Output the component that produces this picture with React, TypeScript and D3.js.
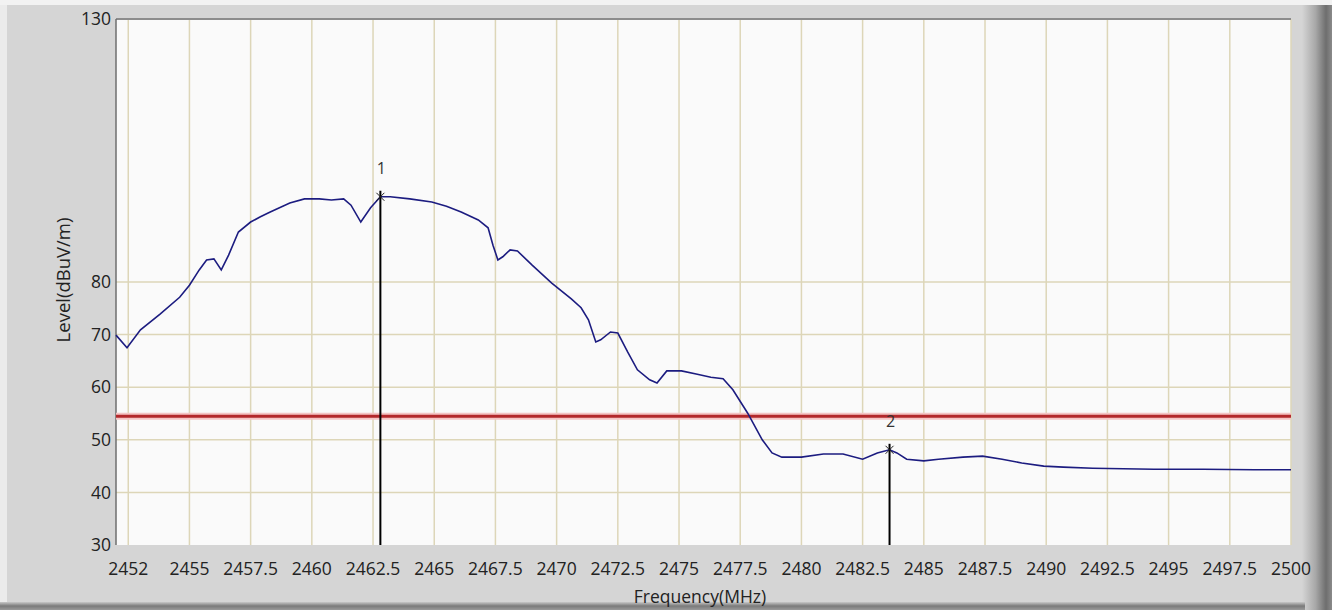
import React from "react";
import * as d3 from "d3";

const freqMHz = [
  2452.0, 2452.45, 2453.0, 2453.8, 2454.6, 2455.0, 2455.4, 2455.7, 2456.0, 2456.3,
  2456.6, 2457.0, 2457.5, 2457.9, 2458.3, 2459.1, 2459.7, 2460.3, 2460.8, 2461.3,
  2461.6, 2462.0, 2462.4, 2462.8, 2463.2, 2464.0, 2464.9, 2465.5, 2466.1, 2466.8,
  2467.2, 2467.4, 2467.6, 2467.8, 2468.1, 2468.4, 2469.0, 2469.8, 2470.6, 2471.0,
  2471.3, 2471.6, 2471.8, 2472.2, 2472.5, 2472.9, 2473.3, 2473.8, 2474.1, 2474.5,
  2475.1, 2475.7, 2476.3, 2476.8, 2477.2, 2477.8, 2478.4, 2478.8, 2479.2, 2480.0,
  2480.9, 2481.7, 2482.5, 2483.1, 2483.6, 2483.9, 2484.3, 2485.0, 2485.6, 2486.6,
  2487.4, 2488.2, 2489.0, 2489.9, 2490.7, 2491.9, 2494.4, 2496.4, 2498.5, 2500.0,
];
const levelDb = [
  69.9, 67.5, 70.9, 73.9, 77.1, 79.4, 82.3, 84.2, 84.4, 82.3,
  85.1, 89.5, 91.4, 92.4, 93.3, 95.0, 95.8, 95.8, 95.6, 95.8,
  94.6, 91.4, 94.1, 96.2, 96.2, 95.8, 95.2, 94.4, 93.3, 91.8,
  90.3, 87.0, 84.2, 84.8, 86.1, 85.9, 83.2, 79.8, 76.8, 75.1,
  72.8, 68.6, 69.0, 70.5, 70.3, 66.7, 63.3, 61.4, 60.8, 63.1,
  63.1, 62.5, 61.9, 61.6, 59.5, 55.1, 50.0, 47.5, 46.7, 46.7,
  47.3, 47.3, 46.3, 47.5, 48.1, 47.5, 46.3, 46.0, 46.3, 46.7,
  46.9, 46.3, 45.6, 45.0, 44.8, 44.6, 44.4, 44.4, 44.3, 44.3,
];

const xTickValues = [
  2452.5, 2455, 2457.5, 2460, 2462.5, 2465, 2467.5, 2470, 2472.5, 2475,
  2477.5, 2480, 2482.5, 2485, 2487.5, 2490, 2492.5, 2495, 2497.5, 2500,
];
const xTickLabels = [
  "2452", "2455", "2457.5", "2460", "2462.5", "2465", "2467.5", "2470", "2472.5", "2475",
  "2477.5", "2480", "2482.5", "2485", "2487.5", "2490", "2492.5", "2495", "2497.5", "2500",
];
const yTickValues = [30, 40, 50, 60, 70, 80, 130];
const yGridValues = [40, 50, 60, 70, 80];
const limitLevel = 54.5;
const markerFreqs = [2462.8, 2483.6];
const markerLevels = [96.2, 48.1];
const markerLabels = ["1", "2"];

const W = 1332;
const H = 610;
const left = 116;
const right = 1291;
const top = 19;
const bottom = 545;
const font = "'Open Sans', 'Noto Sans', sans-serif";

export default function App() {
  const x = d3.scaleLinear().domain([2452, 2500]).range([left, right]);
  const y = d3.scaleLinear().domain([30, 130]).range([bottom, top]);
  const pts: [number, number][] = freqMHz.map((f, i) => [f, levelDb[i]]);
  const line = d3
    .line<[number, number]>()
    .x((d) => x(d[0]))
    .y((d) => y(d[1]))
    .curve(d3.curveLinear);

  return (
    <svg
      width={W}
      height={H}
      style={{ position: "absolute", left: 0, top: 0, display: "block" }}
    >
      <defs>
        <linearGradient id="rightShade" x1="0" x2="1" y1="0" y2="0">
          <stop offset="0" stopColor="#d5d5d5" />
          <stop offset="0.45" stopColor="#a8a8a8" />
          <stop offset="0.8" stopColor="#6e6e6e" />
          <stop offset="1" stopColor="#8a8a8a" />
        </linearGradient>
        <linearGradient id="bottomShade" x1="0" x2="0" y1="0" y2="1">
          <stop offset="0" stopColor="#c8c8c8" />
          <stop offset="0.5" stopColor="#7a7a7a" />
          <stop offset="1" stopColor="#9a9a9a" />
        </linearGradient>
      </defs>
      {/* panel */}
      <rect x={0} y={0} width={W} height={H} fill="#d5d5d5" />
      <rect x={0} y={0} width={W} height={5} fill="#f2f2f2" />
      <rect x={0} y={5} width={7} height={H - 5} fill="#ebebeb" />
      <rect x={1302} y={5} width={30} height={H - 5} fill="url(#rightShade)" />
      <rect x={0} y={602} width={1305} height={8} fill="url(#bottomShade)" />

      {/* plot background */}
      <rect x={left} y={top} width={right - left} height={bottom - top} fill="#fafafa" />

      {/* grid */}
      {xTickValues.map((v) => (
        <line
          key={"gx" + v}
          x1={x(v)}
          x2={x(v)}
          y1={top}
          y2={bottom}
          stroke="#ddd6b8"
          strokeWidth={1.5}
        />
      ))}
      {yGridValues.map((v) => (
        <line
          key={"gy" + v}
          x1={left}
          x2={right}
          y1={y(v)}
          y2={y(v)}
          stroke="#ddd6b8"
          strokeWidth={1.5}
        />
      ))}

      {/* frame */}
      <line x1={left} x2={right} y1={top} y2={top} stroke="#8c8c8c" strokeWidth={2} />
      <line x1={left} x2={left} y1={top} y2={bottom} stroke="#6e6e6e" strokeWidth={1.5} />

      {/* limit line */}
      <line x1={left} x2={right} y1={y(limitLevel)} y2={y(limitLevel)} stroke="#f4c4c4" strokeWidth={7} />
      <line x1={left} x2={right} y1={y(limitLevel)} y2={y(limitLevel)} stroke="#b3282b" strokeWidth={3} />

      {/* trace */}
      <path d={line(pts) || ""} fill="none" stroke="#1c1c80" strokeWidth={1.6} />

      {/* markers */}
      {markerFreqs.map((f, i) => {
        const mx = x(f);
        const my = y(markerLevels[i]);
        return (
          <g key={"m" + i}>
            <line x1={mx} x2={mx} y1={my - 6} y2={bottom} stroke="#000" strokeWidth={2} />
            <line x1={mx - 4} x2={mx + 4} y1={my - 4} y2={my + 4} stroke="#222" strokeWidth={1} />
            <line x1={mx - 4} x2={mx + 4} y1={my + 4} y2={my - 4} stroke="#222" strokeWidth={1} />
            <text
              x={mx + 1}
              y={my - 23}
              fontFamily={font}
              fontSize={16}
              fill="#333"
              textAnchor="middle"
            >
              {markerLabels[i]}
            </text>
          </g>
        );
      })}

      {/* y tick labels */}
      {yTickValues.map((v) => (
        <text
          key={"yt" + v}
          x={111}
          y={y(v)}
          dy="0.35em"
          textAnchor="end"
          fontFamily={font}
          fontSize={17.5}
          fill="#222"
        >
          {v}
        </text>
      ))}

      {/* x tick labels */}
      {xTickValues.map((v, i) => (
        <text
          key={"xt" + v}
          x={x(v)}
          y={575}
          textAnchor="middle"
          fontFamily={font}
          fontSize={17.5}
          fill="#222"
        >
          {xTickLabels[i]}
        </text>
      ))}

      {/* axis titles */}
      <text
        x={700}
        y={603}
        textAnchor="middle"
        fontFamily={font}
        fontSize={17.5}
        fill="#222"
      >
        Frequency(MHz)
      </text>
      <text
        transform={`translate(70, 280) rotate(-90)`}
        textAnchor="middle"
        fontFamily={font}
        fontSize={18.5}
        fill="#222"
      >
        Level(dBuV/m)
      </text>
    </svg>
  );
}
